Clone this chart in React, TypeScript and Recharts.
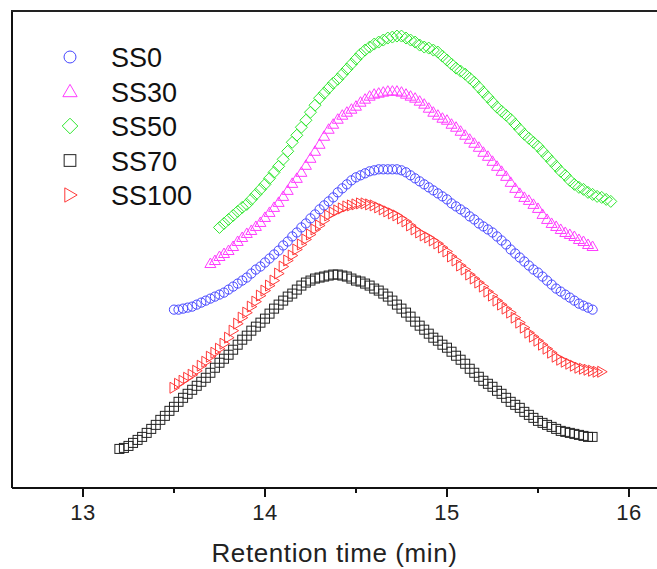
import { ScatterChart, Scatter, XAxis, YAxis, Legend, ReferenceLine } from 'recharts';

// retention time (min), 0.025 min sampling
const retentionTime = [
  13.2, 13.225, 13.25, 13.275, 13.3, 13.325, 13.35, 13.375, 13.4, 13.425,
  13.45, 13.475, 13.5, 13.525, 13.55, 13.575, 13.6, 13.625, 13.65, 13.675,
  13.7, 13.725, 13.75, 13.775, 13.8, 13.825, 13.85, 13.875, 13.9, 13.925,
  13.95, 13.975, 14, 14.025, 14.05, 14.075, 14.1, 14.125, 14.15, 14.175,
  14.2, 14.225, 14.25, 14.275, 14.3, 14.325, 14.35, 14.375, 14.4, 14.425,
  14.45, 14.475, 14.5, 14.525, 14.55, 14.575, 14.6, 14.625, 14.65, 14.675,
  14.7, 14.725, 14.75, 14.775, 14.8, 14.825, 14.85, 14.875, 14.9, 14.925,
  14.95, 14.975, 15, 15.025, 15.05, 15.075, 15.1, 15.125, 15.15, 15.175,
  15.2, 15.225, 15.25, 15.275, 15.3, 15.325, 15.35, 15.375, 15.4, 15.425,
  15.45, 15.475, 15.5, 15.525, 15.55, 15.575, 15.6, 15.625, 15.65, 15.675,
  15.7, 15.725, 15.75, 15.775, 15.8, 15.825, 15.85, 15.875, 15.9,
];

// detector signal (arbitrary units, curves offset) - each series starts at its own time
const ss0 = [
  178, 178, 179, 180, 181, 183, 185, 187, 189, 191, 193, 195,
  198, 201, 204, 207, 210, 214, 218, 221, 225, 229, 233, 237,
  242, 246, 251, 255, 260, 264, 269, 273, 278, 282, 286, 290,
  295, 299, 303, 307, 310, 312, 314, 316, 317, 318, 318, 318,
  318, 318, 317, 315, 312, 309, 306, 303, 300, 297, 294, 291,
  288, 284, 281, 278, 275, 271, 268, 264, 261, 258, 255, 251,
  247, 243, 238, 234, 230, 226, 222, 218, 215, 211, 207, 203,
  199, 196, 193, 190, 187, 184, 182, 180, 178,
];
const ss30 = [
  224, 227, 231, 234, 237, 241, 246, 250, 254, 257, 261, 265,
  270, 275, 280, 285, 291, 297, 304, 309, 315, 322, 329, 336,
  343, 351, 358, 363, 368, 372, 375, 378, 381, 385, 388, 391,
  393, 394, 395, 396, 396, 396, 395, 393, 391, 389, 386, 383,
  379, 375, 372, 369, 367, 363, 360, 356, 352, 348, 344, 340,
  335, 331, 326, 321, 316, 311, 305, 299, 294, 290, 287, 283,
  279, 273, 268, 264, 261, 258, 255, 253, 251, 248, 246, 243,
  241,
];
const ss50 = [
  260, 264, 268, 272, 276, 280, 283, 288, 293, 298, 303, 309,
  315, 321, 328, 336, 345, 352, 360, 367, 375, 382, 389, 394,
  399, 404, 408, 413, 418, 423, 428, 433, 437, 440, 443, 445,
  447, 449, 450, 451, 451, 449, 447, 445, 442, 440, 439, 437,
  435, 431, 427, 423, 419, 416, 413, 409, 405, 400, 395, 390,
  385, 380, 376, 372, 368, 363, 358, 353, 349, 345, 341, 336,
  331, 326, 321, 316, 312, 307, 303, 300, 298, 295, 293, 291,
  290, 288, 286,
];
const ss70 = [
  39, 40, 42, 45, 48, 51, 55, 59, 63, 68, 72, 77,
  81, 86, 90, 94, 98, 102, 106, 110, 115, 120, 125, 129,
  133, 138, 143, 148, 152, 157, 161, 165, 169, 174, 179, 183,
  187, 191, 194, 198, 202, 205, 207, 209, 210, 211, 212, 213,
  213, 212, 211, 209, 207, 206, 204, 202, 199, 197, 194, 191,
  187, 183, 179, 175, 171, 166, 162, 158, 154, 150, 147, 143,
  140, 136, 132, 128, 124, 119, 115, 111, 107, 104, 101, 97,
  94, 90, 86, 83, 80, 76, 73, 70, 67, 65, 63, 61,
  59, 57, 56, 55, 54, 53, 52, 51, 51,
];
const ss100 = [
  100, 104, 107, 110, 113, 117, 122, 126, 131, 135, 139, 144,
  150, 157, 164, 170, 175, 181, 186, 192, 197, 202, 207, 214,
  221, 227, 232, 238, 243, 248, 253, 258, 262, 267, 272, 275,
  277, 279, 281, 282, 283, 284, 284, 283, 282, 280, 278, 276,
  274, 272, 269, 266, 262, 258, 255, 252, 250, 247, 244, 240,
  236, 231, 227, 222, 218, 213, 209, 205, 201, 196, 192, 187,
  183, 179, 175, 170, 165, 160, 155, 151, 147, 143, 139, 135,
  131, 128, 126, 124, 122, 120, 119, 118, 117, 116, 116,
];

const xTicks = [13, 13.5, 14, 14.5, 15, 15.5, 16];
const X_DOMAIN = [12.61, 16.154];
const Y_DOMAIN = [0, 476];

const SERIES = [
  { name: 'SS0', start: 13.5, values: ss0, color: '#4646ff', marker: 'circle' },
  { name: 'SS30', start: 13.7, values: ss30, color: '#ff3cff', marker: 'triangleUp' },
  { name: 'SS50', start: 13.75, values: ss50, color: '#2ee82e', marker: 'diamond' },
  { name: 'SS70', start: 13.2, values: ss70, color: '#222222', marker: 'square' },
  { name: 'SS100', start: 13.5, values: ss100, color: '#ff3a3a', marker: 'triangleRight' },
];

const FONT = '"Liberation Sans", Arial, Helvetica, sans-serif';

function toPoints(start: number, values: number[]) {
  const first = retentionTime.indexOf(start);
  return values.map((v, k) => ({ t: retentionTime[first + k], v }));
}

function Marker({ cx, cy, kind, color, s = 1 }: any) {
  const common = { fill: 'none', stroke: color, strokeWidth: 1 };
  switch (kind) {
    case 'circle':
      return <circle cx={cx} cy={cy} r={4.6 * s} {...common} />;
    case 'triangleUp':
      return (
        <polygon
          points={`${cx},${cy - 5.5 * s} ${cx - 5.5 * s},${cy + 4 * s} ${cx + 5.5 * s},${cy + 4 * s}`}
          {...common}
        />
      );
    case 'diamond':
      return (
        <polygon
          points={`${cx},${cy - 6 * s} ${cx + 6 * s},${cy} ${cx},${cy + 6 * s} ${cx - 6 * s},${cy}`}
          {...common}
        />
      );
    case 'square':
      return <rect x={cx - 4.5 * s} y={cy - 4.5 * s} width={9 * s} height={9 * s} {...common} />;
    case 'triangleRight':
      return (
        <polygon
          points={`${cx - 4 * s},${cy - 5.5 * s} ${cx + 5.5 * s},${cy} ${cx - 4 * s},${cy + 5.5 * s}`}
          {...common}
        />
      );
    default:
      return null;
  }
}

// tick line (5px) comes from the axis; whole minutes get 4px more plus a label
function TimeTick({ x, y, payload }: any) {
  const major = Number.isInteger(payload.value);
  if (!major) return <g />;
  return (
    <g>
      <line x1={x} y1={y - 1} x2={x} y2={y + 4} stroke="#111" strokeWidth={2} />
      <text x={x} y={y + 27} textAnchor="middle" fontSize={22} letterSpacing={0.5} fontFamily={FONT} fill="#222">
        {payload.value}
      </text>
    </g>
  );
}

function SeriesLegend() {
  return (
    <svg width={170} height={200}>
      {SERIES.map((s, i) => {
        const cy = 20 + i * 34.5;
        return (
          <g key={s.name}>
            <Marker cx={12} cy={cy} kind={s.marker} color={s.color} s={1.3} />
            <text x={53} y={cy + 10} fontSize={27} fontFamily={FONT} fill="#111">
              {s.name}
            </text>
          </g>
        );
      })}
    </svg>
  );
}

function App() {
  return (
    <div style={{ position: 'absolute', left: 0, top: 0, fontFamily: FONT }}>
      <ScatterChart width={657} height={569} margin={{ top: 11, right: 0, left: 12, bottom: 0 }}>
        <XAxis
          dataKey="t"
          type="number"
          domain={X_DOMAIN}
          ticks={xTicks}
          allowDataOverflow
          height={81}
          tickSize={5}
          tickMargin={0}
          tickLine={{ stroke: '#111', strokeWidth: 2 }}
          tick={(props: any) => <TimeTick {...props} />}
          axisLine={{ stroke: '#111', strokeWidth: 2 }}
          label={{
            value: 'Retention time (min)',
            position: 'insideBottom',
            offset: 7,
            fontSize: 26,
            letterSpacing: 0.6,
            fontFamily: FONT,
            fill: '#222',
          }}
        />
        <YAxis
          dataKey="v"
          type="number"
          domain={Y_DOMAIN}
          allowDataOverflow
          width={0}
          tick={false}
          tickLine={false}
          axisLine={false}
        />
        <ReferenceLine x={X_DOMAIN[0]} stroke="#111" strokeWidth={2} ifOverflow="visible" />
        <Legend
          layout="vertical"
          align="center"
          verticalAlign="middle"
          content={<SeriesLegend />}
          wrapperStyle={{ left: 58, top: 37, width: 170, height: 200 }}
        />
        {SERIES.map((s) => (
          <Scatter
            key={s.name}
            name={s.name}
            data={toPoints(s.start, s.values)}
            isAnimationActive={false}
            shape={(props: any) => <Marker cx={props.cx} cy={props.cy} kind={s.marker} color={s.color} />}
          />
        ))}
      </ScatterChart>
      {/* top frame edge */}
      <div style={{ position: 'absolute', left: 11, top: 10, width: 646, height: 2, background: '#222', zIndex: 5 }} />
    </div>
  );
}

export default App;
